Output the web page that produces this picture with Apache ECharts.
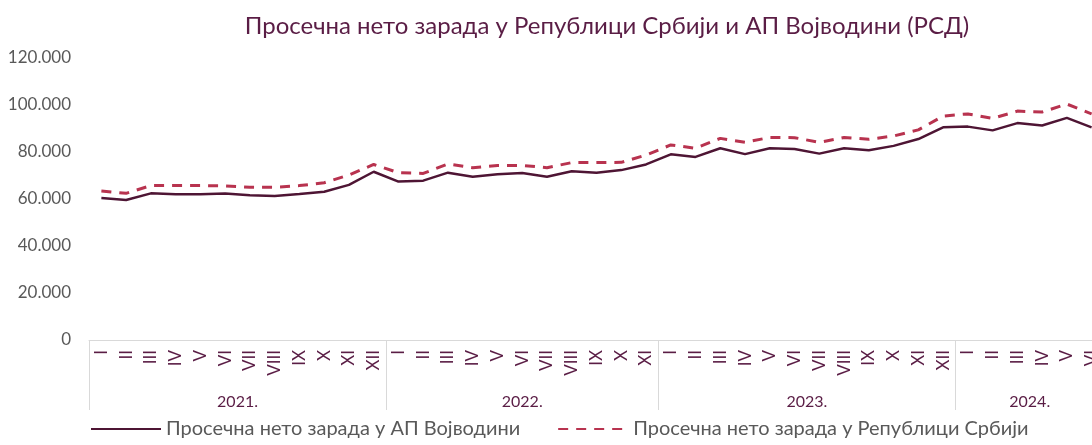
<!DOCTYPE html>
<html>
<head>
<meta charset="utf-8">
<script src="https://cdn.jsdelivr.net/npm/echarts@6/dist/echarts.min.js"></script>
<style>
  html, body { margin: 0; padding: 0; background: #ffffff; }
  #chart { width: 1092px; height: 445px; }
</style>
</head>
<body>
<div id="chart"></div>
<script>
// Month labels grouped by year (2022 is reported without XII)
const years = ['2021.', '2022.', '2023.', '2024.'];
const months2021 = ['I', 'II', 'III', 'IV', 'V', 'VI', 'VII', 'VIII', 'IX', 'X', 'XI', 'XII'];
const months2022 = ['I', 'II', 'III', 'IV', 'V', 'VI', 'VII', 'VIII', 'IX', 'X', 'XI'];
const months2023 = ['I', 'II', 'III', 'IV', 'V', 'VI', 'VII', 'VIII', 'IX', 'X', 'XI', 'XII'];
const months2024 = ['I', 'II', 'III', 'IV', 'V', 'VI'];

// Average net salary, AP Vojvodina (RSD)
const vojvodina = [
  60400, 59600, 62400, 62000, 62000, 62300, 61600, 61300, 62100, 63100, 66000, 71600,
  67400, 67800, 71200, 69500, 70500, 71100, 69500, 71800, 71200, 72300, 74700,
  79000, 77900, 81600, 79100, 81600, 81300, 79300, 81600, 80700, 82600, 85500, 90500,
  90800, 89200, 92300, 91300, 94500, 90500
];

// Average net salary, Republic of Serbia (RSD)
const serbia = [
  63400, 62400, 65700, 65700, 65700, 65600, 65000, 65000, 65700, 66900, 70200, 74700,
  71200, 70900, 74900, 73300, 74300, 74300, 73300, 75500, 75500, 75600, 78700,
  83000, 81600, 85800, 84100, 86200, 86100, 84100, 86200, 85400, 86800, 89400, 95300,
  96200, 94300, 97400, 97000, 100400, 96200
];

const yTicks = [0, 20000, 40000, 60000, 80000, 100000, 120000];

const monthGroups = [months2021, months2022, months2023, months2024];
const categories = [].concat(...monthGroups);

// Year boundaries and centres on a 0..N scale that matches the month slots
const yearBounds = [0];
monthGroups.forEach(g => yearBounds.push(yearBounds[yearBounds.length - 1] + g.length));
const yearCentres = years.map((_, i) => (yearBounds[i] + yearBounds[i + 1]) / 2);

const fmt = v => String(v).replace(/\B(?=(\d{3})+(?!\d))/g, '.');

const purple = '#5a1d45';
const solidColor = '#4e1534';
const dashColor = '#b8334f';
const gray = '#595959';
const font = 'Lato, "Open Sans", sans-serif';

const chart = echarts.init(document.getElementById('chart'), null, { renderer: 'canvas' });

chart.setOption({
  backgroundColor: '#ffffff',
  animation: false,
  textStyle: { fontFamily: font },
  title: {
    text: 'Просечна нето зарада у Републици Србији и АП Војводини (РСД)',
    left: 602,
    textAlign: 'center',
    top: 9,
    textStyle: { color: purple, fontSize: 24, fontWeight: 'normal', fontFamily: font }
  },
  legend: {
    left: 90,
    top: 419,
    padding: 0,
    itemWidth: 70,
    itemHeight: 14,
    itemGap: 37,
    itemStyle: { opacity: 0 },
    textStyle: { color: gray, fontSize: 20, fontFamily: font },
    data: ['Просечна нето зарада у АП Војводини', 'Просечна нето зарада у Републици Србији']
  },
  grid: { left: 89, top: 58, width: 1015, height: 282, outerBoundsMode: 'none' },
  xAxis: [
    {
      type: 'category',
      data: categories,
      boundaryGap: true,
      axisLine: { show: true, lineStyle: { color: '#d9d9d9', width: 1 } },
      axisTick: { show: false },
      axisLabel: {
        rotate: 90,
        interval: 0,
        margin: 10,
        color: purple,
        fontSize: 17,
        fontFamily: font
      },
      splitLine: { show: false }
    },
    {
      type: 'value',
      position: 'bottom',
      min: 0,
      max: yearBounds[yearBounds.length - 1],
      axisLine: { show: false },
      axisTick: {
        show: true,
        customValues: yearBounds,
        length: 70,
        lineStyle: { color: '#d9d9d9', width: 1 }
      },
      axisLabel: {
        customValues: yearCentres,
        margin: 54,
        color: purple,
        fontSize: 16,
        fontFamily: font,
        formatter: v => {
          const i = yearCentres.indexOf(v);
          return i >= 0 ? years[i] : '';
        }
      },
      splitLine: { show: false }
    }
  ],
  yAxis: {
    type: 'value',
    min: yTicks[0],
    max: yTicks[yTicks.length - 1],
    interval: 20000,
    axisLine: { show: false },
    axisTick: { show: false },
    splitLine: { show: false },
    axisLabel: {
      margin: 18,
      color: gray,
      fontSize: 17,
      fontFamily: font,
      formatter: v => fmt(v)
    }
  },
  series: [
    {
      name: 'Просечна нето зарада у АП Војводини',
      type: 'line',
      data: vojvodina,
      symbol: 'none',
      lineStyle: { color: solidColor, width: 2.5 },
      itemStyle: { color: solidColor }
    },
    {
      name: 'Просечна нето зарада у Републици Србији',
      type: 'line',
      data: serbia,
      symbol: 'none',
      lineStyle: { color: dashColor, width: 3, type: [10, 8] },
      itemStyle: { color: dashColor }
    }
  ]
});
</script>
</body>
</html>
